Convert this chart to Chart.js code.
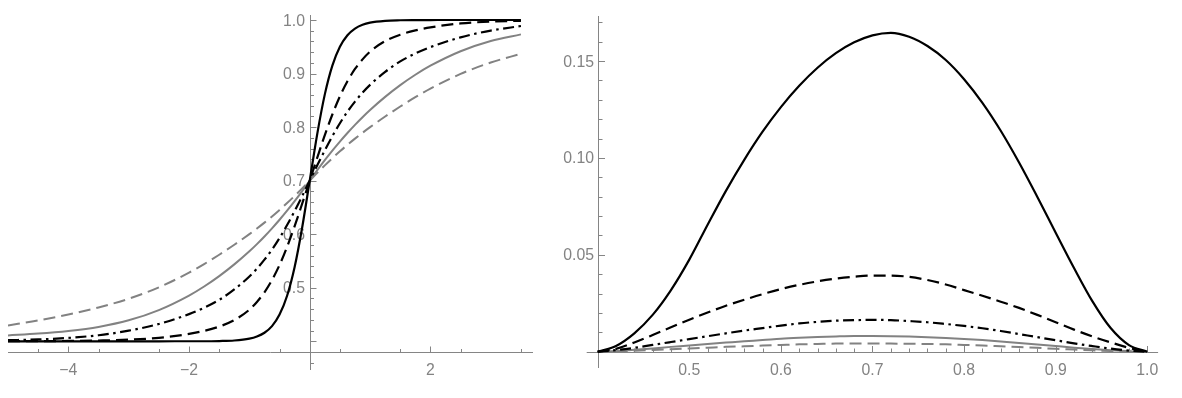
<!DOCTYPE html>
<html>
<head>
<meta charset="utf-8">
<script src="https://cdn.jsdelivr.net/npm/chart.js@4.4.1/dist/chart.umd.min.js"></script>
<style>
  html, body { margin: 0; padding: 0; background: #ffffff; width: 1182px; height: 398px; overflow: hidden; }
  #cl { position: absolute; left: 0; top: 0; }
  #cr { position: absolute; left: 560px; top: 0; }
</style>
</head>
<body>
<canvas id="cl" width="560" height="398"></canvas>
<canvas id="cr" width="622" height="398"></canvas>
<script>
// ---------- Left panel data ----------
const leftX = [-5, -4.5, -4, -3.5, -3, -2.5, -2, -1.75, -1.5, -1.25, -1, -0.875, -0.75, -0.625, -0.5, -0.375, -0.25, -0.125,
  0, 0.125, 0.25, 0.375, 0.5, 0.625, 0.75, 0.875, 1, 1.25, 1.5, 1.75, 2, 2.5, 3, 3.5];
const leftBlackSolid = [0.4000, 0.4000, 0.4000, 0.4000, 0.4000, 0.4000, 0.4001, 0.4001, 0.4005, 0.4015, 0.4049, 0.4089, 0.4160, 0.4284, 0.4499, 0.4851, 0.5389, 0.6126,
  0.7000, 0.7874, 0.8611, 0.9149, 0.9501, 0.9716, 0.9840, 0.9911, 0.9951, 0.9985, 0.9995, 0.9998, 0.9999, 1.0000, 1.0000, 1.0000];
const leftBlackDashed = [0.4001, 0.4003, 0.4007, 0.4015, 0.4030, 0.4065, 0.4138, 0.4195, 0.4275, 0.4395, 0.4590, 0.4735, 0.4915, 0.5145, 0.5425, 0.5765, 0.6150, 0.6570,
  0.7000, 0.7430, 0.7850, 0.8235, 0.8575, 0.8855, 0.9085, 0.9265, 0.9410, 0.9605, 0.9725, 0.9805, 0.9862, 0.9935, 0.9970, 0.9985];
const leftBlackDotDash = [0.4020, 0.4035, 0.4063, 0.4113, 0.4198, 0.4324, 0.4507, 0.4626, 0.4774, 0.4968, 0.5211, 0.5357, 0.5524, 0.5713, 0.5929, 0.6171, 0.6434, 0.6711,
  0.7000, 0.7289, 0.7566, 0.7829, 0.8071, 0.8287, 0.8476, 0.8643, 0.8789, 0.9032, 0.9226, 0.9374, 0.9493, 0.9676, 0.9802, 0.9887];
const leftGraySolid = [0.4110, 0.4144, 0.4194, 0.4269, 0.4392, 0.4583, 0.4854, 0.5023, 0.5217, 0.5436, 0.5681, 0.5815, 0.5958, 0.6110, 0.6270, 0.6439, 0.6617, 0.6804,
  0.7000, 0.7196, 0.7383, 0.7561, 0.7730, 0.7890, 0.8042, 0.8185, 0.8319, 0.8564, 0.8783, 0.8977, 0.9146, 0.9417, 0.9608, 0.9731];
const leftGrayDashed = [0.4297, 0.4389, 0.4499, 0.4632, 0.4794, 0.5007, 0.5282, 0.5442, 0.5616, 0.5802, 0.6001, 0.6106, 0.6216, 0.6331, 0.6453, 0.6581, 0.6715, 0.6855,
  0.7000, 0.7145, 0.7285, 0.7419, 0.7547, 0.7669, 0.7784, 0.7894, 0.7999, 0.8198, 0.8384, 0.8558, 0.8718, 0.8993, 0.9206, 0.9368];

const leftXTickValues = [-4, -2, 2];
const leftXTickLabels = ["\u22124", "\u22122", "2"];
const leftYTickValues = [0.5, 0.6, 0.7, 0.8, 0.9, 1.0];
const leftYTickLabels = ["0.5", "0.6", "0.7", "0.8", "0.9", "1.0"];

// ---------- Right panel data ----------
const rightX = [0.40, 0.42, 0.44, 0.46, 0.48, 0.50, 0.52, 0.54, 0.56, 0.58, 0.60, 0.62, 0.64, 0.66, 0.68, 0.70,
  0.72, 0.74, 0.76, 0.78, 0.80, 0.82, 0.84, 0.86, 0.88, 0.90, 0.92, 0.94, 0.96, 0.98, 1.00];
const rightBlackSolid = [0, 0.0030, 0.0095, 0.0190, 0.0318, 0.0475, 0.0655, 0.0830, 0.0990, 0.1135, 0.1262, 0.1372, 0.1465, 0.1540, 0.1596, 0.1632,
  0.1645, 0.1625, 0.1577, 0.1505, 0.1406, 0.1284, 0.1140, 0.0976, 0.0798, 0.0614, 0.0432, 0.0261, 0.0122, 0.0034, 0];
const rightBlackDashed = [0, 0.0015, 0.0048, 0.0086, 0.0126, 0.0165, 0.0202, 0.0237, 0.0268, 0.0297, 0.0323, 0.0345, 0.0363, 0.0377, 0.0387, 0.0393,
  0.0393, 0.0386, 0.0370, 0.0347, 0.0318, 0.0289, 0.0258, 0.0226, 0.0190, 0.0152, 0.0114, 0.0079, 0.0048, 0.0020, 0];
const rightBlackDotDash = [0, 0.0008, 0.0020, 0.0035, 0.0050, 0.0065, 0.0080, 0.0095, 0.0109, 0.0122, 0.0135, 0.0146, 0.0154, 0.0160, 0.0163, 0.0164,
  0.0163, 0.0158, 0.0152, 0.0143, 0.0133, 0.0121, 0.0107, 0.0091, 0.0075, 0.0059, 0.0043, 0.0029, 0.0016, 0.0006, 0];
const rightGraySolid = [0, 0.0004, 0.0010, 0.0017, 0.0025, 0.0032, 0.0040, 0.0047, 0.0054, 0.0060, 0.0067, 0.0072, 0.0076, 0.0079, 0.0081, 0.0081,
  0.0080, 0.0078, 0.0075, 0.0071, 0.0066, 0.0060, 0.0053, 0.0045, 0.0037, 0.0029, 0.0021, 0.0014, 0.0008, 0.0003, 0];
const rightGrayDashed = [0, 0.0002, 0.0005, 0.0009, 0.0013, 0.0017, 0.0021, 0.0025, 0.0028, 0.0032, 0.0035, 0.0038, 0.0040, 0.0042, 0.0043, 0.0043,
  0.0042, 0.0041, 0.0040, 0.0038, 0.0035, 0.0032, 0.0028, 0.0024, 0.0020, 0.0015, 0.0011, 0.0007, 0.0004, 0.0002, 0];

const rightXTickValues = [0.5, 0.6, 0.7, 0.8, 0.9, 1.0];
const rightXTickLabels = ["0.5", "0.6", "0.7", "0.8", "0.9", "1.0"];
const rightYTickValues = [0.05, 0.10, 0.15];
const rightYTickLabels = ["0.05", "0.10", "0.15"];

// ---------- helpers ----------
function range(startInt, endInt, div, skipEvery) {
  const out = [];
  for (let i = startInt; i <= endInt; i++) {
    if (skipEvery && i % skipEvery === 0) continue;
    out.push(i / div);
  }
  return out;
}

const FONT = '15.8px "Liberation Sans", Arial, sans-serif';
const AXIS_COLOR = '#858585';
const LABEL_COLOR = '#838383';
const BLACK = '#000000';
const GRAY = '#828282';

function axesPlugin(cfg) {
  return {
    id: 'mmaAxes',
    beforeDatasetsDraw(chart) {
      const ctx = chart.ctx, ca = chart.chartArea;
      const xs = chart.scales.x, ys = chart.scales.y;
      const px = v => xs.getPixelForValue(v);
      const py = v => ys.getPixelForValue(v);
      const ax = Math.round(px(cfg.yAxisAt)) + 0.5;
      const ay = Math.round(py(cfg.xAxisAt)) + 0.5;
      ctx.save();
      ctx.strokeStyle = AXIS_COLOR;
      ctx.lineWidth = 1;
      ctx.beginPath();
      ctx.moveTo(ca.left, ay); ctx.lineTo(ca.right, ay);
      ctx.moveTo(ax, ca.top); ctx.lineTo(ax, ca.bottom);
      cfg.xMajor.forEach(v => { const x = Math.round(px(v)) + 0.5; ctx.moveTo(x, ay); ctx.lineTo(x, ay - cfg.majorLen); });
      cfg.xMinor.forEach(v => { const x = Math.round(px(v)) + 0.5; ctx.moveTo(x, ay); ctx.lineTo(x, ay - cfg.minorLen); });
      cfg.yMajor.forEach(v => { const y = Math.round(py(v)) + 0.5; ctx.moveTo(ax, y); ctx.lineTo(ax + cfg.majorLen, y); });
      cfg.yMinor.forEach(v => { const y = Math.round(py(v)) + 0.5; ctx.moveTo(ax, y); ctx.lineTo(ax + cfg.minorLen, y); });
      ctx.stroke();
      ctx.fillStyle = LABEL_COLOR;
      ctx.font = FONT;
      ctx.textBaseline = 'alphabetic';
      ctx.textAlign = 'center';
      cfg.xLabelValues.forEach((v, i) => ctx.fillText(cfg.xLabels[i], px(v), ay + cfg.xLabelDrop));
      ctx.textAlign = 'right';
      cfg.yLabelValues.forEach((v, i) => ctx.fillText(cfg.yLabels[i], ax - cfg.yLabelGap, py(v) + 5.6));
      ctx.restore();
    }
  };
}

function ds(xArr, yArr, color, width, dash) {
  return {
    data: xArr.map((x, i) => ({ x: x, y: yArr[i] })),
    borderColor: color,
    borderWidth: width,
    borderDash: dash,
    pointRadius: 0,
    fill: false,
    cubicInterpolationMode: 'monotone'
  };
}

const DASH = [12, 6];
const DOTDASH = [11, 4.5, 2.5, 4.5];

function baseOptions(padding, xmin, xmax, ymin, ymax) {
  return {
    responsive: false,
    animation: false,
    devicePixelRatio: 1,
    events: [],
    layout: { padding: padding },
    plugins: { legend: { display: false }, tooltip: { enabled: false } },
    scales: {
      x: { type: 'linear', min: xmin, max: xmax, display: false },
      y: { type: 'linear', min: ymin, max: ymax, display: false }
    }
  };
}

// Left chart
new Chart(document.getElementById('cl'), {
  type: 'line',
  data: {
    datasets: [
      ds(leftX, leftBlackSolid, BLACK, 2.2, []),
      ds(leftX, leftBlackDashed, BLACK, 2.2, DASH),
      ds(leftX, leftBlackDotDash, BLACK, 2.2, DOTDASH),
      ds(leftX, leftGraySolid, GRAY, 2.0, []),
      ds(leftX, leftGrayDashed, GRAY, 2.0, DASH)
    ]
  },
  options: baseOptions({ left: 8, right: 27, top: 15, bottom: 28 }, -5, 3.7, 0.3464, 1.0093),
  plugins: [axesPlugin({
    xAxisAt: 0.38, yAxisAt: 0,
    xMajor: leftXTickValues, xMinor: range(-9, 7, 2, 2),
    yMajor: [0.4].concat(leftYTickValues), yMinor: range(18, 50, 50, 5).filter(v => Math.abs(v - 0.38) > 1e-6),
    majorLen: 6, minorLen: 3.5,
    xLabelValues: leftXTickValues, xLabels: leftXTickLabels, xLabelDrop: 22,
    yLabelValues: leftYTickValues, yLabels: leftYTickLabels, yLabelGap: 5.5
  })]
});

// Right chart
new Chart(document.getElementById('cr'), {
  type: 'line',
  data: {
    datasets: [
      ds(rightX, rightBlackSolid, BLACK, 2.2, []),
      ds(rightX, rightBlackDashed, BLACK, 2.2, DASH),
      ds(rightX, rightBlackDotDash, BLACK, 2.2, DOTDASH),
      ds(rightX, rightGraySolid, GRAY, 2.0, []),
      ds(rightX, rightGrayDashed, GRAY, 2.0, DASH)
    ]
  },
  options: baseOptions({ left: 26.7, right: 23.9, top: 16, bottom: 30 }, 0.388, 1.0118, -0.0084, 0.1732),
  plugins: [axesPlugin({
    xAxisAt: 0, yAxisAt: 0.4,
    xMajor: rightXTickValues, xMinor: range(21, 49, 50, 5),
    yMajor: rightYTickValues, yMinor: range(1, 17, 100, 5),
    majorLen: 6.5, minorLen: 4,
    xLabelValues: rightXTickValues, xLabels: rightXTickLabels, xLabelDrop: 22,
    yLabelValues: rightYTickValues, yLabels: rightYTickLabels, yLabelGap: 4.5
  })]
});
</script>
</body>
</html>
